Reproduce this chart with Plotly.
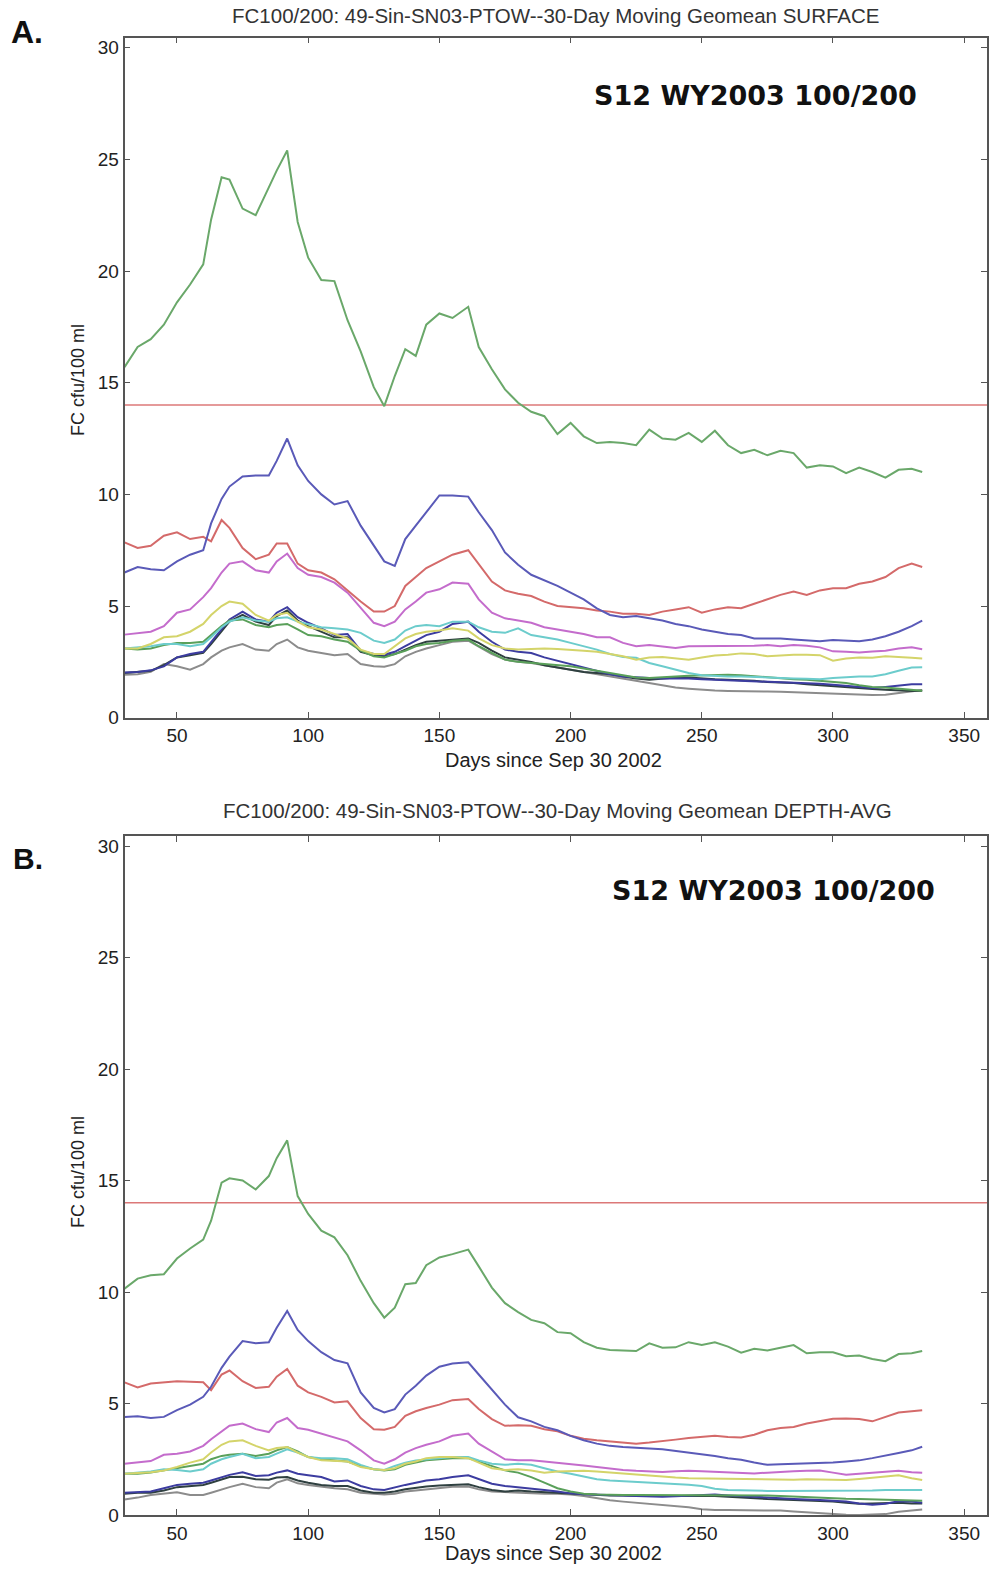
import plotly.graph_objects as go

# ---------------- data ----------------
DAYS = [30, 35, 40, 45, 50, 55, 60, 63, 67, 70, 75, 80, 85, 88, 92, 96, 100, 105, 110, 115,
        120, 125, 129, 133, 137, 141, 145, 150, 155, 161, 165, 170, 175, 180, 185, 190,
        195, 200, 205, 210, 215, 220, 225, 230, 235, 240, 245, 250, 255, 260, 265, 270,
        275, 280, 285, 290, 295, 300, 305, 310, 315, 320, 325, 330, 334]

THRESHOLD = 14
X_TICKS = [50, 100, 150, 200, 250, 300, 350]
Y_TICKS = [0, 5, 10, 15, 20, 25, 30]

TITLE_A = "FC100/200: 49-Sin-SN03-PTOW--30-Day Moving Geomean SURFACE"
TITLE_B = "FC100/200: 49-Sin-SN03-PTOW--30-Day Moving Geomean DEPTH-AVG"
X_LABEL = "Days since Sep 30 2002"
Y_LABEL = "FC cfu/100 ml"
STAMP = "S12 WY2003 100/200"

# Panel A (surface)
A_GREEN = [15.7, 16.6, 16.95, 17.6, 18.6, 19.4, 20.3, 22.3, 24.2, 24.1, 22.8, 22.5, 23.75, 24.5, 25.4, 22.2, 20.6, 19.6,
           19.55, 17.8, 16.4, 14.8, 13.95, 15.3, 16.5, 16.2, 17.6, 18.1, 17.9, 18.4, 16.6, 15.6, 14.7, 14.1, 13.7, 13.5,
           12.7, 13.2, 12.6, 12.3, 12.35, 12.3, 12.2, 12.9, 12.5, 12.45, 12.75, 12.35, 12.85, 12.2, 11.85, 12.0, 11.75,
           11.95, 11.85, 11.2, 11.3, 11.25, 10.95, 11.2, 11.0, 10.75, 11.1, 11.15, 11.0]
A_BLUE = [6.5, 6.75, 6.65, 6.6, 7.0, 7.3, 7.5, 8.7, 9.8, 10.35, 10.8, 10.85, 10.85, 11.5, 12.5, 11.3, 10.6, 10.0,
          9.55, 9.7, 8.6, 7.7, 7.0, 6.8, 8.0, 8.6, 9.2, 9.95, 9.95, 9.9, 9.2, 8.4, 7.4, 6.85, 6.4, 6.15,
          5.9, 5.6, 5.3, 4.9, 4.6, 4.5, 4.55, 4.45, 4.35, 4.2, 4.1, 3.95, 3.85, 3.75, 3.7, 3.55, 3.55, 3.55, 3.5,
          3.45, 3.42, 3.48, 3.45, 3.42, 3.5, 3.65, 3.85, 4.1, 4.35]
A_RED = [7.85, 7.6, 7.7, 8.15, 8.3, 8.0, 8.1, 7.9, 8.85, 8.5, 7.6, 7.1, 7.3, 7.8, 7.8, 6.9, 6.6, 6.5,
         6.2, 5.7, 5.2, 4.75, 4.75, 5.0, 5.9, 6.3, 6.7, 7.0, 7.3, 7.5, 6.9, 6.1, 5.7, 5.55, 5.45, 5.2,
         5.0, 4.95, 4.9, 4.8, 4.75, 4.65, 4.65, 4.6, 4.75, 4.85, 4.95, 4.7, 4.85, 4.95, 4.9, 5.1, 5.3, 5.5, 5.65,
         5.5, 5.7, 5.8, 5.8, 6.0, 6.1, 6.3, 6.7, 6.9, 6.75]
A_MAGENTA = [3.72, 3.78, 3.85, 4.1, 4.7, 4.85, 5.4, 5.8, 6.5, 6.9, 7.0, 6.6, 6.5, 7.0, 7.35, 6.7, 6.4, 6.3,
             6.05, 5.6, 4.9, 4.25, 4.1, 4.3, 4.85, 5.2, 5.6, 5.75, 6.05, 6.0, 5.3, 4.7, 4.45, 4.35, 4.25, 4.05,
             3.95, 3.85, 3.75, 3.6, 3.6, 3.35, 3.2, 3.25, 3.2, 3.12, 3.2, 3.2, 3.2, 3.22, 3.2, 3.22, 3.25, 3.2, 3.25,
             3.22, 3.15, 2.97, 2.95, 2.92, 2.96, 3.0, 3.1, 3.15, 3.07]
A_YELLOW = [3.1, 3.1, 3.3, 3.6, 3.65, 3.85, 4.2, 4.6, 5.0, 5.2, 5.1, 4.6, 4.35, 4.6, 4.7, 4.3, 4.05, 3.95,
            3.75, 3.55, 3.05, 2.85, 2.85, 3.2, 3.55, 3.75, 3.85, 3.9, 4.0, 3.9, 3.55, 3.25, 3.1, 3.05, 3.08, 3.1,
            3.08, 3.05, 3.0, 2.95, 2.85, 2.75, 2.6, 2.7, 2.72, 2.65, 2.6, 2.7, 2.78, 2.82, 2.88, 2.85, 2.75, 2.78, 2.82,
            2.82, 2.8, 2.55, 2.65, 2.7, 2.68, 2.75, 2.7, 2.68, 2.65]
A_CYAN = [3.1, 3.15, 3.2, 3.3, 3.3, 3.2, 3.3, 3.6, 4.05, 4.3, 4.5, 4.35, 4.3, 4.45, 4.5, 4.3, 4.2, 4.05,
          4.0, 3.95, 3.8, 3.45, 3.35, 3.5, 3.9, 4.1, 4.15, 4.1, 4.3, 4.3, 4.05, 3.85, 3.8, 4.0, 3.7, 3.6,
          3.5, 3.35, 3.2, 3.05, 2.85, 2.72, 2.68, 2.45, 2.3, 2.15, 2.0, 1.9, 1.87, 1.85, 1.85, 1.82, 1.8, 1.78, 1.76,
          1.74, 1.72, 1.78, 1.82, 1.84, 1.85, 1.95, 2.1, 2.25, 2.26]
A_GREEN2 = [3.1, 3.05, 3.1, 3.25, 3.35, 3.35, 3.4, 3.7, 4.1, 4.35, 4.4, 4.15, 4.05, 4.15, 4.2, 3.95, 3.7, 3.65,
            3.5, 3.4, 3.0, 2.75, 2.7, 2.85, 3.0, 3.2, 3.3, 3.35, 3.45, 3.5, 3.2, 2.9, 2.6, 2.5, 2.45, 2.4,
            2.35, 2.3, 2.2, 2.1, 2.0, 1.9, 1.8, 1.78, 1.8, 1.84, 1.88, 1.9, 1.92, 1.92, 1.9, 1.85, 1.8, 1.76, 1.72,
            1.7, 1.66, 1.62, 1.55, 1.45, 1.38, 1.35, 1.3, 1.25, 1.21]
A_DKBLUE = [2.02, 2.05, 2.12, 2.3, 2.7, 2.85, 2.95, 3.4, 4.0, 4.4, 4.75, 4.4, 4.3, 4.7, 4.95, 4.5, 4.25, 4.0,
            3.7, 3.75, 3.0, 2.85, 2.82, 2.95, 3.2, 3.45, 3.7, 3.85, 4.2, 4.3, 3.85, 3.4, 3.05, 2.95, 2.9, 2.7,
            2.55, 2.4, 2.25, 2.1, 1.95, 1.85, 1.8, 1.78, 1.76, 1.77, 1.75, 1.72, 1.7, 1.68, 1.65, 1.62, 1.62, 1.6, 1.58,
            1.55, 1.52, 1.47, 1.42, 1.35, 1.33, 1.38, 1.45, 1.5, 1.5]
A_BLACK = [2.0, 2.05, 2.1, 2.35, 2.7, 2.8, 2.9, 3.3, 3.9, 4.3, 4.6, 4.3, 4.15, 4.55, 4.8, 4.35, 4.1, 3.85,
           3.6, 3.6, 2.95, 2.8, 2.75, 2.85, 3.05, 3.25, 3.4, 3.45, 3.5, 3.55, 3.35, 3.0, 2.7, 2.6, 2.5, 2.35,
           2.25, 2.15, 2.05, 2.0, 1.95, 1.85, 1.75, 1.7, 1.75, 1.8, 1.8, 1.75, 1.72, 1.7, 1.68, 1.65, 1.6, 1.58, 1.55,
           1.5, 1.45, 1.4, 1.35, 1.3, 1.28, 1.25, 1.22, 1.2, 1.21]
A_GRAY = [1.92, 1.95, 2.05, 2.4, 2.3, 2.15, 2.4, 2.7, 3.0, 3.15, 3.3, 3.05, 3.0, 3.3, 3.5, 3.15, 3.0, 2.9,
          2.8, 2.85, 2.4, 2.3, 2.28, 2.4, 2.75, 2.95, 3.1, 3.25, 3.4, 3.45, 3.2, 2.85, 2.6, 2.5, 2.45, 2.35,
          2.25, 2.15, 2.05, 1.95, 1.85, 1.75, 1.65, 1.55, 1.45, 1.35, 1.3, 1.25, 1.22, 1.2, 1.18, 1.17, 1.17, 1.16, 1.14,
          1.12, 1.1, 1.06, 1.04, 1.02, 1.02, 1.03, 1.1, 1.2, 1.24]

# Panel B (depth-averaged)
B_GREEN = [10.15, 10.6, 10.75, 10.8, 11.5, 11.95, 12.35, 13.2, 14.9, 15.1, 15.0, 14.6, 15.2, 16.0, 16.8, 14.3, 13.5, 12.75,
           12.45, 11.65, 10.5, 9.5, 8.85, 9.3, 10.35, 10.4, 11.2, 11.55, 11.7, 11.9, 11.15, 10.2, 9.5, 9.1, 8.75, 8.6,
           8.2, 8.15, 7.75, 7.5, 7.4, 7.38, 7.35, 7.7, 7.5, 7.52, 7.75, 7.62, 7.75, 7.55, 7.28, 7.45, 7.38, 7.5, 7.62,
           7.25, 7.3, 7.3, 7.12, 7.15, 7.0, 6.9, 7.22, 7.25, 7.35]
B_BLUE = [4.4, 4.43, 4.35, 4.4, 4.7, 4.95, 5.3, 5.75, 6.6, 7.1, 7.8, 7.7, 7.75, 8.4, 9.15, 8.3, 7.8, 7.3,
          6.95, 6.8, 5.5, 4.8, 4.6, 4.75, 5.4, 5.8, 6.25, 6.65, 6.79, 6.85, 6.3, 5.6, 4.95, 4.38, 4.2, 3.95,
          3.8, 3.55, 3.35, 3.2, 3.1, 3.05, 3.0, 2.98, 2.95, 2.88, 2.82, 2.75, 2.65, 2.55, 2.48, 2.35, 2.25, 2.28, 2.3,
          2.3, 2.32, 2.35, 2.4, 2.45, 2.55, 2.65, 2.78, 2.9, 3.06]
B_RED = [5.95, 5.72, 5.9, 5.95, 6.0, 5.98, 5.95, 5.6, 6.3, 6.48, 6.0, 5.7, 5.75, 6.2, 6.55, 5.8, 5.5, 5.3,
         5.05, 5.1, 4.35, 3.85, 3.82, 3.95, 4.45, 4.65, 4.8, 4.95, 5.15, 5.2, 4.75, 4.3, 4.0, 4.03, 4.0, 3.85,
         3.75, 3.55, 3.42, 3.35, 3.3, 3.22, 3.2, 3.25, 3.3, 3.38, 3.45, 3.5, 3.55, 3.5, 3.48, 3.6, 3.8, 3.9, 3.95,
         4.1, 4.2, 4.32, 4.33, 4.3, 4.2, 4.4, 4.6, 4.65, 4.7]
B_MAGENTA = [2.3, 2.35, 2.42, 2.7, 2.75, 2.85, 3.1, 3.4, 3.75, 4.0, 4.1, 3.85, 3.72, 4.15, 4.35, 3.9, 3.82, 3.65,
             3.5, 3.3, 2.9, 2.45, 2.3, 2.5, 2.8, 3.0, 3.15, 3.3, 3.55, 3.65, 3.2, 2.85, 2.5, 2.45, 2.45, 2.4,
             2.35, 2.3, 2.22, 2.15, 2.08, 2.02, 1.98, 1.95, 1.93, 1.96, 1.98, 1.96, 1.94, 1.93, 1.9, 1.86, 1.9, 1.94, 1.96,
             1.98, 2.0, 1.9, 1.8, 1.85, 1.9, 1.95, 1.98, 1.92, 1.89]
B_YELLOW = [1.85, 1.88, 1.92, 2.0, 2.15, 2.35, 2.5, 2.8, 3.15, 3.3, 3.35, 3.1, 2.9, 3.0, 3.05, 2.8, 2.6, 2.45,
            2.42, 2.4, 2.15, 2.05, 2.02, 2.1, 2.3, 2.4, 2.55, 2.6, 2.6, 2.55, 2.35, 2.1, 2.02, 2.05, 2.0, 1.9,
            1.95, 1.98, 1.98, 1.95, 1.9, 1.85, 1.8, 1.75, 1.72, 1.68, 1.65, 1.64, 1.64, 1.64, 1.63, 1.62, 1.6, 1.58, 1.58,
            1.6, 1.6, 1.58, 1.57, 1.62, 1.68, 1.74, 1.78, 1.65, 1.57]
B_CYAN = [1.85, 1.9, 1.95, 2.05, 2.02, 1.95, 2.05, 2.3, 2.5, 2.6, 2.75, 2.55, 2.6, 2.75, 2.95, 2.8, 2.6, 2.55,
          2.55, 2.5, 2.25, 2.05, 2.02, 2.2, 2.35, 2.45, 2.5, 2.55, 2.6, 2.6, 2.45, 2.3, 2.25, 2.3, 2.25, 2.1,
          1.95, 1.85, 1.72, 1.6, 1.55, 1.52, 1.5, 1.45, 1.42, 1.4, 1.36, 1.3, 1.18, 1.12, 1.1, 1.09, 1.08, 1.08, 1.08,
          1.08, 1.08, 1.08, 1.08, 1.09, 1.1, 1.12, 1.13, 1.12, 1.12]
B_GREEN2 = [1.85, 1.85, 1.9, 2.0, 2.1, 2.2, 2.3, 2.5, 2.65, 2.7, 2.75, 2.65, 2.75, 2.9, 3.05, 2.85, 2.6, 2.5,
            2.45, 2.4, 2.2, 2.05, 2.0, 2.05, 2.25, 2.35, 2.45, 2.5, 2.55, 2.55, 2.4, 2.2, 2.0, 1.9, 1.7, 1.45,
            1.2, 1.05, 0.95, 0.92, 0.9, 0.9, 0.9, 0.9, 0.9, 0.9, 0.9, 0.9, 0.9, 0.9, 0.9, 0.88, 0.87, 0.85, 0.82,
            0.8, 0.78, 0.75, 0.73, 0.72, 0.7, 0.68, 0.66, 0.65, 0.64]
B_DKBLUE = [1.0, 1.02, 1.05, 1.2, 1.35, 1.4, 1.45, 1.55, 1.7, 1.8, 1.92, 1.75, 1.78, 1.9, 2.0, 1.85, 1.78, 1.7,
            1.5, 1.55, 1.3, 1.15, 1.12, 1.25, 1.35, 1.45, 1.55, 1.6, 1.7, 1.78, 1.6, 1.4, 1.3, 1.25, 1.2, 1.12,
            1.05, 0.97, 0.93, 0.92, 0.9, 0.88, 0.85, 0.83, 0.82, 0.84, 0.86, 0.88, 0.92, 0.88, 0.84, 0.8, 0.78, 0.75, 0.72,
            0.68, 0.67, 0.64, 0.6, 0.52, 0.46, 0.5, 0.62, 0.6, 0.55]
B_BLACK = [0.95, 1.0, 1.0, 1.1, 1.25, 1.3, 1.35, 1.45, 1.6, 1.7, 1.72, 1.6, 1.58, 1.68, 1.7, 1.55, 1.45, 1.35,
           1.3, 1.3, 1.1, 1.0, 1.0, 1.05, 1.15, 1.22, 1.28, 1.32, 1.35, 1.38, 1.25, 1.12, 1.05, 1.1, 1.05, 1.02,
           1.0, 0.95, 0.92, 0.9, 0.88, 0.88, 0.85, 0.85, 0.85, 0.85, 0.85, 0.88, 0.85, 0.82, 0.78, 0.75, 0.72, 0.7, 0.68,
           0.65, 0.62, 0.6, 0.55, 0.5, 0.52, 0.55, 0.55, 0.52, 0.52]
B_GRAY = [0.7, 0.78, 0.9, 0.95, 1.02, 0.9, 0.9, 1.0, 1.15, 1.25, 1.4, 1.25, 1.2, 1.45, 1.6, 1.42, 1.35, 1.27,
          1.2, 1.15, 1.0, 0.95, 0.92, 0.95, 1.05, 1.1, 1.15, 1.2, 1.27, 1.28, 1.15, 1.05, 1.02, 1.0, 0.98, 0.95,
          0.95, 0.92, 0.85, 0.75, 0.66, 0.6, 0.55, 0.5, 0.47, 0.43, 0.35, 0.26, 0.22, 0.22, 0.22, 0.22, 0.22, 0.2, 0.16,
          0.12, 0.08, 0.03, 0.01, 0.0, 0.01, 0.04, 0.15, 0.22, 0.25]

# ---------------- styling ----------------
COLORS = {
    "gray": "#8c8c8c", "black": "#2f4040", "dkblue": "#3c3ca0", "green2": "#5aa05a",
    "cyan": "#6ccccc", "yellow": "#d4d46a", "magenta": "#c46ccc", "red": "#d46a6a",
    "blue": "#5a5ab8", "green": "#6aa86a",
}
PANEL_A = [("gray", A_GRAY), ("black", A_BLACK), ("dkblue", A_DKBLUE), ("green2", A_GREEN2),
           ("cyan", A_CYAN), ("yellow", A_YELLOW), ("magenta", A_MAGENTA), ("red", A_RED),
           ("blue", A_BLUE), ("green", A_GREEN)]
PANEL_B = [("gray", B_GRAY), ("black", B_BLACK), ("dkblue", B_DKBLUE), ("green2", B_GREEN2),
           ("cyan", B_CYAN), ("yellow", B_YELLOW), ("magenta", B_MAGENTA), ("red", B_RED),
           ("blue", B_BLUE), ("green", B_GREEN)]

W, H = 990, 1572
FONT = "Liberation Sans, Arial, sans-serif"
AX_COLOR = "#555555"
X_MAX = 358.7

fig = go.Figure()

for xa, ya, panel in [("x", "y", PANEL_A), ("x2", "y2", PANEL_B)]:
    fig.add_trace(go.Scatter(x=[30, X_MAX], y=[THRESHOLD, THRESHOLD], mode="lines",
                             line=dict(color="#dc7878", width=1.6), xaxis=xa, yaxis=ya,
                             showlegend=False, hoverinfo="skip"))
    for key, vals in panel:
        fig.add_trace(go.Scatter(x=DAYS, y=vals, mode="lines",
                                 line=dict(color=COLORS[key], width=2), xaxis=xa, yaxis=ya,
                                 showlegend=False, name=key))


def px(x):
    return x / W


def py(y):
    return 1 - y / H


axis_common = dict(showline=True, mirror="ticks", linecolor=AX_COLOR, linewidth=1.5,
                   ticks="inside", ticklen=6, tickcolor=AX_COLOR, tickwidth=1.2,
                   showgrid=False, zeroline=False, automargin=False,
                   tickfont=dict(family=FONT, size=19, color="#222222"))

x_dom = [px(124.5), px(987)]
fig.update_layout(
    template="none",
    width=W, height=H, autosize=False,
    margin=dict(l=0, r=0, t=0, b=0, pad=0, autoexpand=False),
    paper_bgcolor="white", plot_bgcolor="white", showlegend=False,
    xaxis=dict(domain=x_dom, range=[30, X_MAX], tickvals=X_TICKS, anchor="y", **axis_common),
    yaxis=dict(domain=[py(717.7), py(37.7)], range=[0, 30.45], tickvals=Y_TICKS, anchor="x", **axis_common),
    xaxis2=dict(domain=x_dom, range=[30, X_MAX], tickvals=X_TICKS, anchor="y2", **axis_common),
    yaxis2=dict(domain=[py(1515), py(836)], range=[0, 30.45], tickvals=Y_TICKS, anchor="x2", **axis_common),
)

ann = []


def add_text(text, x, y, size, bold=False, family=FONT, angle=0, color="#222222"):
    ann.append(dict(text=text, x=px(x), y=py(y), xref="paper", yref="paper", showarrow=False,
                    xanchor="center", yanchor="middle", textangle=angle,
                    font=dict(family=family, size=size, color=color,
                              weight="bold" if bold else "normal")))


add_text(TITLE_A, 556, 16, 20.5, color="#333333")
add_text(TITLE_B, 557, 810, 20.5, color="#333333")
add_text(X_LABEL, 553, 760, 20)
add_text(X_LABEL, 553, 1553, 20)
add_text(Y_LABEL, 78, 380, 18, angle=-90)
add_text(Y_LABEL, 78, 1172, 18, angle=-90)
add_text("A.", 27, 32, 32, bold=True, color="#111111")
add_text("B.", 28, 858, 30, bold=True, color="#111111")
add_text(STAMP, 755, 95, 27, bold=True, family="DejaVu Sans, sans-serif", color="#111111")
add_text(STAMP, 773, 890, 27, bold=True, family="DejaVu Sans, sans-serif", color="#111111")

fig.update_layout(annotations=ann)
fig.write_html("out.html", config={"responsive": False, "displayModeBar": False},
               post_script="document.body.style.margin='0px';document.body.style.overflow='hidden';")
